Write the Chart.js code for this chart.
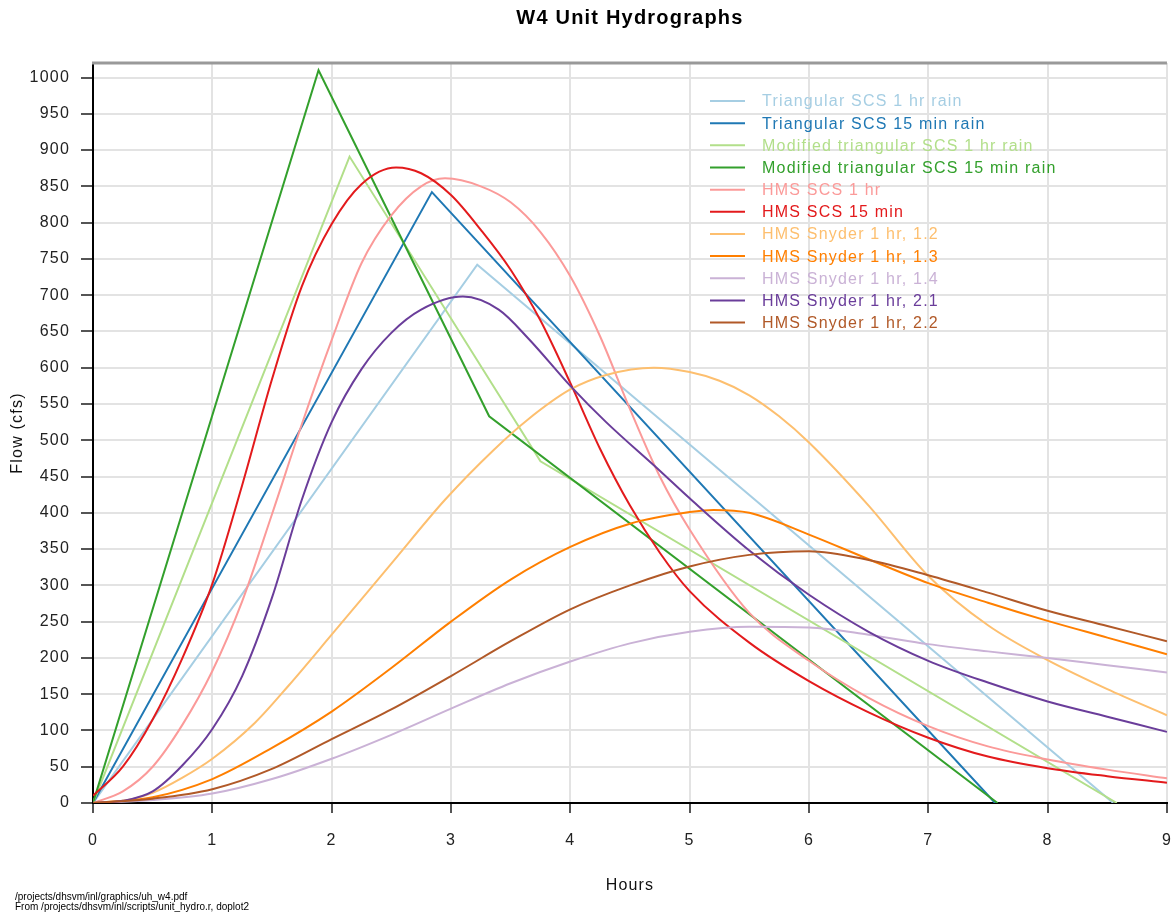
<!DOCTYPE html>
<html>
<head>
<meta charset="utf-8">
<title>W4 Unit Hydrographs</title>
<script src="https://cdn.jsdelivr.net/npm/chart.js@4.4.1/dist/chart.umd.min.js"></script>
<style>
  html, body { margin: 0; padding: 0; background: #fff; overflow: hidden; }
</style>
</head>
<body>
<canvas id="uhChart" width="1190" height="915"></canvas>
<script>
// tick labels
const hourTicks = [0, 1, 2, 3, 4, 5, 6, 7, 8, 9];
const flowTicks = [0, 50, 100, 150, 200, 250, 300, 350, 400, 450, 500,
  550, 600, 650, 700, 750, 800, 850, 900, 950, 1000];

// series names + colours (same order as the legend)
const seriesNames = [
  'Triangular SCS 1 hr rain',
  'Triangular SCS 15 min rain',
  'Modified triangular SCS 1 hr rain',
  'Modified triangular SCS 15 min rain',
  'HMS SCS 1 hr',
  'HMS SCS 15 min',
  'HMS Snyder 1 hr, 1.2',
  'HMS Snyder 1 hr, 1.3',
  'HMS Snyder 1 hr, 1.4',
  'HMS Snyder 1 hr, 2.1',
  'HMS Snyder 1 hr, 2.2'
];
const seriesColors = ['#a6cee3', '#1f78b4', '#b2df8a', '#33a02c', '#fb9a99', '#e31a1c',
  '#fdbf6f', '#ff7f00', '#cab2d6', '#6a3d9a', '#b15928'];

// triangular hydrographs (straight segments)
const triScs1hrHours = [0, 3.22, 8.55];
const triScs1hrFlow = [0, 742, 0];
const triScs15Hours = [0, 2.84, 7.56];
const triScs15Flow = [0, 842, 0];
const modTri1hrHours = [0, 2.15, 3.75, 8.58];
const modTri1hrFlow = [0, 891, 471, 0];
const modTri15Hours = [0, 1.89, 3.32, 7.58];
const modTri15Flow = [0, 1010, 533, 0];

// HMS hydrographs (smooth curves)
const hmsScs1hrHours = [0, 0.25, 0.5, 0.75, 1, 1.25, 1.5, 1.75, 2, 2.25, 2.5, 2.75, 2.95, 3.25, 3.5,
  3.75, 4, 4.25, 4.5, 4.75, 5, 5.5, 6, 6.5, 7, 7.5, 8, 8.5, 9];
const hmsScs1hrFlow = [0, 16, 50, 108, 182, 278, 398, 522, 638, 744, 810, 850, 861, 850, 828,
  787, 726, 643, 543, 450, 377, 262, 196, 145, 106, 78, 60, 46, 34];

const hmsScs15Hours = [0, 0.25, 0.5, 0.75, 1, 1.25, 1.5, 1.75, 2, 2.25, 2.54, 2.75, 3, 3.25, 3.5,
  3.75, 4, 4.25, 4.5, 4.75, 5, 5.5, 6, 6.5, 7, 7.5, 8, 8.5, 9];
const hmsScs15Flow = [10, 50, 115, 200, 302, 438, 584, 712, 798, 853, 876, 868, 838, 790, 735,
  665, 579, 488, 410, 345, 292, 221, 168, 125, 90, 64, 48, 37, 28];

const snyder12Hours = [0, 0.25, 0.5, 0.75, 1, 1.36, 1.64, 2, 2.5, 2.95, 3.36, 3.64, 4, 4.3, 4.7,
  5, 5.25, 5.5, 5.75, 6, 6.5, 7, 7.5, 8, 8.5, 9];
const snyder12Flow = [0, 3, 14, 35, 61, 111, 162, 232, 330, 418, 487, 528, 570, 590, 600,
  594, 582, 562, 533, 497, 410, 313, 245, 197, 157, 121];

const snyder13Hours = [0, 0.5, 1, 1.5, 2, 2.5, 3, 3.5, 4, 4.5, 5, 5.2, 5.5, 6, 6.5, 7, 7.5, 8, 8.5, 9];
const snyder13Flow = [0, 8, 33, 76, 126, 186, 250, 308, 353, 385, 401, 404, 400, 370, 336, 303, 276, 251, 228, 205];

const snyder14Hours = [0, 0.5, 1, 1.5, 2, 2.5, 3, 3.5, 4, 4.5, 5, 5.5, 6, 6.5, 7, 7.5, 8, 8.5, 9];
const snyder14Flow = [0, 4, 13, 33, 61, 94, 130, 165, 195, 220, 236, 243, 242, 232, 219, 209, 200, 190, 180];

const snyder21Hours = [0, 0.25, 0.5, 0.75, 1, 1.25, 1.5, 1.75, 2, 2.25, 2.5, 2.75, 3.1, 3.4, 3.65,
  4, 4.3, 4.75, 5, 5.5, 6, 6.5, 7, 7.5, 8, 8.5, 9];
const snyder21Flow = [0, 3, 16, 52, 102, 175, 283, 418, 525, 598, 648, 680, 698, 680, 640,
  575, 525, 458, 420, 348, 287, 236, 196, 166, 140, 119, 98];

const snyder22Hours = [0, 0.5, 1, 1.5, 2, 2.5, 3, 3.5, 4, 4.5, 5, 5.5, 6, 6.5, 7, 7.5, 8, 8.5, 9];
const snyder22Flow = [0, 6, 19, 47, 88, 129, 175, 223, 267, 300, 326, 342, 347, 335, 314, 290, 265, 244, 223];

const seriesHours = [triScs1hrHours, triScs15Hours, modTri1hrHours, modTri15Hours, hmsScs1hrHours,
  hmsScs15Hours, snyder12Hours, snyder13Hours, snyder14Hours, snyder21Hours, snyder22Hours];
const seriesFlow = [triScs1hrFlow, triScs15Flow, modTri1hrFlow, modTri15Flow, hmsScs1hrFlow,
  hmsScs15Flow, snyder12Flow, snyder13Flow, snyder14Flow, snyder21Flow, snyder22Flow];
const straightSeries = 4; // first four are triangles

const FONT = "'Liberation Sans', Arial, Helvetica, sans-serif";

const datasets = seriesNames.map((name, i) => ({
  label: name,
  data: seriesHours[i].map((h, j) => ({ x: h, y: seriesFlow[i][j] })),
  borderColor: seriesColors[i],
  backgroundColor: seriesColors[i],
  borderWidth: 2,
  pointRadius: 0,
  fill: false,
  tension: 0,
  cubicInterpolationMode: i < straightSeries ? 'default' : 'monotone',
  order: seriesNames.length - i
}));

// wider letters, like the R/pdf text
const spacing = {
  id: 'spacing',
  beforeUpdate(chart) { chart.ctx.letterSpacing = '1.2px'; },
  beforeDraw(chart) { chart.ctx.letterSpacing = '1.2px'; }
};

const frameAndText = {
  id: 'frameAndText',
  afterDraw(chart) {
    const { ctx, chartArea } = chart;
    ctx.save();
    // top frame line
    ctx.strokeStyle = '#999';
    ctx.lineWidth = 3;
    ctx.beginPath();
    ctx.moveTo(chartArea.left - 1, chartArea.top);
    ctx.lineTo(chartArea.right, chartArea.top);
    ctx.stroke();

    // title
    ctx.fillStyle = '#000';
    ctx.font = 'bold 20px ' + FONT;
    ctx.textAlign = 'center';
    ctx.textBaseline = 'middle';
    ctx.fillText('W4 Unit Hydrographs', (chartArea.left + chartArea.right) / 2, 18);

    // legend
    ctx.font = '16px ' + FONT;
    ctx.textAlign = 'left';
    chart.data.datasets.forEach((ds, i) => {
      const y = chartArea.top + 38 + i * 22.16;
      const x0 = chartArea.left + 617;
      ctx.strokeStyle = ds.borderColor;
      ctx.lineWidth = 2;
      ctx.beginPath();
      ctx.moveTo(x0, y);
      ctx.lineTo(x0 + 35, y);
      ctx.stroke();
      ctx.fillStyle = ds.borderColor;
      ctx.fillText(ds.label, x0 + 52, y + 1);
    });

    // footer
    ctx.letterSpacing = '0px';
    ctx.fillStyle = '#000';
    ctx.font = '10px ' + FONT;
    ctx.fillText('/projects/dhsvm/inl/graphics/uh_w4.pdf', 15, 897);
    ctx.fillText('From /projects/dhsvm/inl/scripts/unit_hydro.r, doplot2', 15, 907);
    ctx.restore();
  }
};

new Chart(document.getElementById('uhChart'), {
  type: 'line',
  data: { datasets: datasets },
  options: {
    responsive: false,
    animation: false,
    layout: { padding: { top: 63, right: 17, left: 0, bottom: 0 } },
    plugins: {
      legend: { display: false },
      title: { display: false },
      tooltip: { enabled: false }
    },
    scales: {
      x: {
        type: 'linear',
        min: 0,
        max: 9,
        afterBuildTicks: s => { s.ticks = hourTicks.map(v => ({ value: v })); },
        afterFit: s => { s.height = 112; },
        grid: { color: '#e3e3e3', lineWidth: 2, tickColor: '#555', tickWidth: 2, tickLength: 10 },
        border: { display: true, color: '#000', width: 2 },
        ticks: { padding: 18, color: '#222', autoSkip: false, maxRotation: 0,
          font: { family: FONT, size: 16 }, callback: v => String(v) },
        title: { display: true, text: 'Hours', color: '#111', font: { family: FONT, size: 16 }, padding: { top: 0, bottom: 20 } }
      },
      y: {
        type: 'linear',
        min: 0,
        max: 1020,
        afterBuildTicks: s => { s.ticks = flowTicks.map(v => ({ value: v })); },
        afterFit: s => { s.width = 93; },
        grid: { color: '#e3e3e3', lineWidth: 2, tickColor: '#555', tickWidth: 2, tickLength: 12 },
        border: { display: true, color: '#000', width: 2 },
        ticks: { padding: 11, color: '#222', font: { family: FONT, size: 16 }, callback: v => String(v) },
        title: { display: true, text: 'Flow (cfs)', color: '#111', font: { family: FONT, size: 16 }, padding: { top: 8, bottom: 0 } }
      }
    }
  },
  plugins: [spacing, frameAndText]
});
</script>
</body>
</html>
